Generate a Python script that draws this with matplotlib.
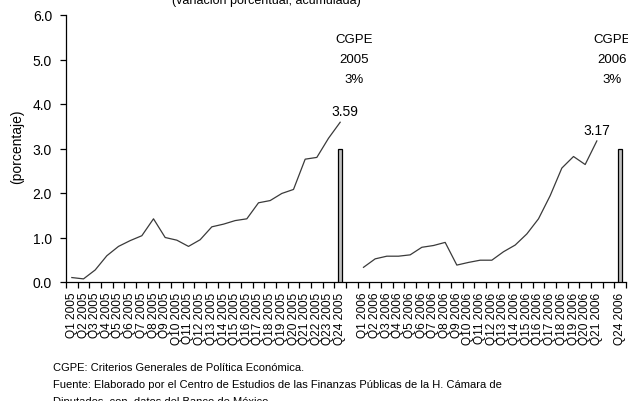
import matplotlib
matplotlib.use("Agg")
import matplotlib.pyplot as plt
import numpy as np

plt.rcParams['font.family'] = ['Liberation Sans', 'DejaVu Sans']

# ---- data ----
labels_2005 = ["Q1 2005", "Q2 2005", "Q3 2005", "Q4 2005", "Q5 2005", "Q6 2005",
               "Q7 2005", "Q8 2005", "Q9 2005", "Q10 2005", "Q11 2005", "Q12 2005",
               "Q13 2005", "Q14 2005", "Q15 2005", "Q16 2005", "Q17 2005", "Q18 2005",
               "Q19 2005", "Q20 2005", "Q21 2005", "Q22 2005", "Q23 2005", "Q24 2005"]
labels_2006 = ["Q1 2006", "Q2 2006", "Q3 2006", "Q4 2006", "Q5 2006", "Q6 2006",
               "Q7 2006", "Q8 2006", "Q9 2006", "Q10 2006", "Q11 2006", "Q12 2006",
               "Q13 2006", "Q14 2006", "Q15 2006", "Q16 2006", "Q17 2006", "Q18 2006",
               "Q19 2006", "Q20 2006", "Q21 2006"]
label_bar_2006 = "Q24 2006"

values_2005 = [0.10, 0.07, 0.27, 0.59, 0.80, 0.93, 1.04, 1.42, 1.00, 0.94, 0.80, 0.95,
               1.24, 1.30, 1.38, 1.42, 1.78, 1.83, 1.99, 2.08, 2.76, 2.80, 3.23, 3.59]
values_2006 = [0.33, 0.52, 0.58, 0.58, 0.61, 0.78, 0.82, 0.89, 0.38, 0.44, 0.49, 0.49,
               0.68, 0.83, 1.08, 1.42, 1.94, 2.56, 2.82, 2.64, 3.17]
cgpe_2005 = 3.0
cgpe_2006 = 3.0

categories = labels_2005 + [""] + labels_2006 + [""] + [label_bar_2006]
n = len(categories)
pos = {c: i for i, c in enumerate(categories) if c}

x2005 = [pos[c] for c in labels_2005]
x2006 = [pos[c] for c in labels_2006]
xbar05 = pos["Q24 2005"]
xbar06 = pos[label_bar_2006]

W, H = 628, 402
fig = plt.figure(figsize=(W / 100, H / 100), dpi=100)
ax = fig.add_axes([66 / W, 119 / H, 560 / W, 267 / H])

line_kw = dict(color='#3a3a3a', lw=0.9)
ax.plot(x2005, values_2005, **line_kw)
ax.plot(x2006, values_2006, **line_kw)
ax.bar([xbar05, xbar06], [cgpe_2005, cgpe_2006], width=0.4,
       color='#c0c0c0', edgecolor='black', linewidth=0.9, zorder=3)

ax.set_xlim(-0.5, n - 0.5)
ax.set_ylim(0, 6)

for s in ['top', 'right']:
    ax.spines[s].set_visible(False)
for s in ['left', 'bottom']:
    ax.spines[s].set_linewidth(0.9)

ax.set_yticks(np.arange(0, 7, 1))
ax.set_yticklabels([f"{v:.1f}" for v in np.arange(0, 7, 1)], fontsize=10)
ax.tick_params(axis='y', direction='out', length=4, width=0.9, pad=6)

ax.set_xticks(range(n))
ax.set_xticklabels(categories, rotation=90, fontsize=8.6, va='top', ha='center')
ax.set_xticks(np.arange(-0.5, n, 1), minor=True)
ax.tick_params(axis='x', which='major', length=0, pad=7)
ax.tick_params(axis='x', which='minor', direction='out', length=4, width=0.9)

# value labels
ax.annotate("3.59", xy=(xbar05, values_2005[-1]), xytext=(5, 11),
            textcoords='offset pixels', ha='center', va='center', fontsize=10)
ax.annotate("3.17", xy=(pos["Q21 2006"], values_2006[-1]), xytext=(0, 11),
            textcoords='offset pixels', ha='center', va='center', fontsize=10)

# CGPE labels
for xb, yr, dx in [(xbar05, "2005", 14), (xbar06, "2006", -8)]:
    for txt, dy in [("CGPE", 109), (yr, 89), ("3%", 69)]:
        ax.annotate(txt, xy=(xb, 3.0), xytext=(dx, dy), textcoords='offset pixels',
                    ha='center', va='center', fontsize=9.5, annotation_clip=False)

fig.text(17 / W, 1 - 147 / H, "(porcentaje)", rotation=90, ha='center', va='center',
         fontsize=10)
fig.text(266 / W, 1 - 4 / H, "(variación porcentual, acumulada)", ha='center',
         va='baseline', fontsize=9)

notes = ["CGPE: Criterios Generales de Política Económica.",
         "Fuente: Elaborado por el Centro de Estudios de las Finanzas Públicas de la H. Cámara de",
         "Diputados, con  datos del Banco de México."]
for i, t in enumerate(notes):
    fig.text(53 / W, 1 - (368 + 17 * i) / H, t, ha='left', va='center', fontsize=8.0)

fig.savefig("out.png", dpi=100)
